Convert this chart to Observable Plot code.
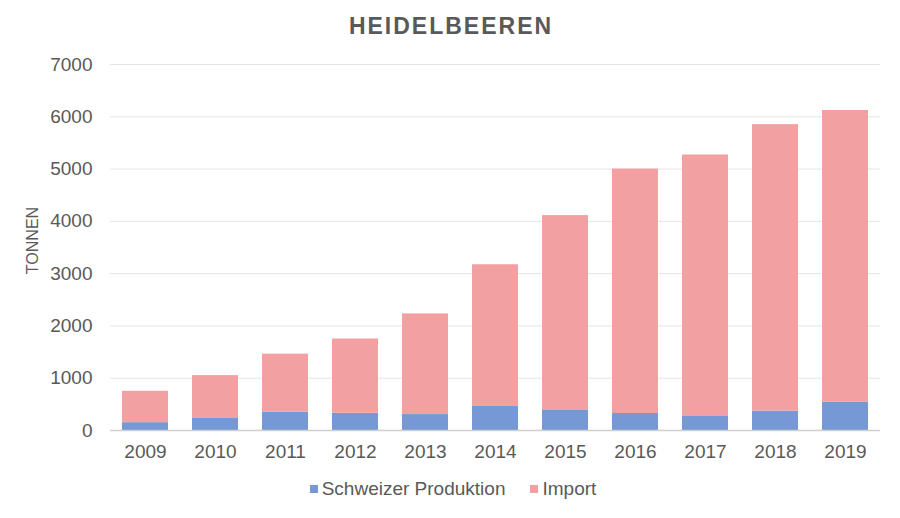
<!DOCTYPE html>
<html>
<head>
<meta charset="utf-8">
<script src="https://cdn.jsdelivr.net/npm/d3@7"></script>
<script src="https://cdn.jsdelivr.net/npm/@observablehq/plot@0.6"></script>
<style>
  html, body { margin: 0; padding: 0; background: #fff; }
  body { width: 900px; height: 518px; font-family: "Liberation Sans", Arial, sans-serif; overflow: hidden; }
  #title { height: 50px; line-height: 52px; text-align: center; font-weight: bold; font-size: 23px; letter-spacing: 2px; color: #595959; padding-left: 2px; }
  #legend { display: flex; justify-content: center; gap: 25px; font-size: 19px; color: #595959; margin-top: 3px; padding-left: 6px; }
  #legend span.sw { display: inline-block; width: 8px; height: 8px; margin-right: 4px; vertical-align: 2px; }
</style>
</head>
<body>
<div id="title">HEIDELBEEREN</div>
<div id="chart"></div>
<div id="legend"></div>
<script>
const years = ["2009","2010","2011","2012","2013","2014","2015","2016","2017","2018","2019"];
const produktion = [150, 230, 350, 330, 305, 460, 395, 325, 280, 370, 545];
const importe = [600, 820, 1110, 1420, 1925, 2710, 3715, 4675, 4990, 5480, 5575];
const seriesNames = ["Schweizer Produktion", "Import"];
const seriesColors = ["#7699d6", "#f3a0a2"];
const yTicks = [0, 1000, 2000, 3000, 4000, 5000, 6000, 7000];

const data = [];
years.forEach((y, i) => {
  data.push({year: y, series: seriesNames[0], value: produktion[i]});
  data.push({year: y, series: seriesNames[1], value: importe[i]});
});

const chart = Plot.plot({
  width: 900,
  height: 425,
  marginTop: 14,
  marginBottom: 45,
  marginLeft: 110,
  marginRight: 20,
  style: {fontFamily: "'Liberation Sans', Arial, sans-serif", fontSize: "19px", color: "#595959"},
  x: {domain: years, paddingInner: 0.34, paddingOuter: 0.17, label: null},
  y: {domain: [0, 7000], ticks: yTicks, label: null},
  color: {domain: seriesNames, range: seriesColors},
  marks: [
    Plot.gridY(yTicks, {stroke: "#d9d9d9", strokeOpacity: 0.7}),
    Plot.barY(data, Plot.stackY({x: "year", y: "value", fill: "series", order: seriesNames})),
    Plot.ruleY([0], {stroke: "#d0d0d0", strokeWidth: 1.5}),
    Plot.axisX({tickSize: 0, tickPadding: 14, fontSize: 19, fill: "#595959"}),
    Plot.axisY(yTicks, {tickSize: 0, tickPadding: 18, fontSize: 19, fill: "#595959", tickFormat: d => String(d)}),
    Plot.text(["TONNEN"], {frameAnchor: "left", textAnchor: "middle", dx: -78, dy: -7, rotate: -90, fontSize: 16, fill: "#595959"})
  ]
});
document.getElementById("chart").appendChild(chart);

const legend = document.getElementById("legend");
seriesNames.forEach((n, i) => {
  const item = document.createElement("div");
  item.innerHTML = `<span class="sw" style="background:${seriesColors[i]}"></span>${n}`;
  legend.appendChild(item);
});
</script>
</body>
</html>
